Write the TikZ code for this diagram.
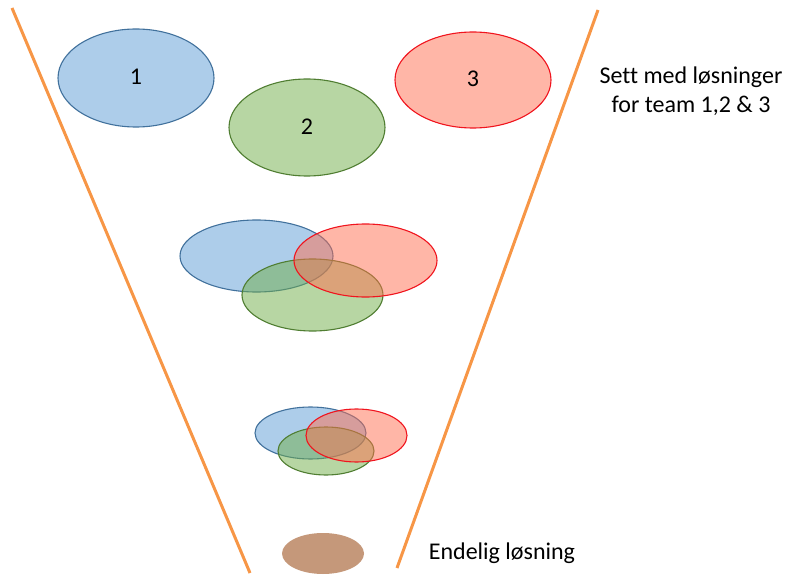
\documentclass[tikz,border=0pt]{standalone}
\usepackage{fontspec}
\setmainfont[Ligatures=NoCommon]{Carlito}
\definecolor{funnel}{RGB}{247,150,70}
\definecolor{bluefill}{RGB}{91,155,213}
\definecolor{blueline}{RGB}{65,113,156}
\definecolor{greenfill}{RGB}{112,173,71}
\definecolor{greenline}{RGB}{80,126,50}
\definecolor{redfill}{RGB}{255,110,80}
\definecolor{redline}{RGB}{240,20,30}
\definecolor{finalfill}{RGB}{197,152,122}
\tikzset{
  blueset/.style={draw=blueline, fill=bluefill, fill opacity=0.5, draw opacity=1, line width=1.1pt},
  greenset/.style={draw=greenline, fill=greenfill, fill opacity=0.5, draw opacity=1, line width=1.1pt},
  redset/.style={draw=redline, fill=redfill, fill opacity=0.5, draw opacity=1, line width=1.1pt},
  funnelline/.style={draw=funnel, line width=3pt},
  lbl/.style={font=\fontsize{24}{29}\selectfont, text=black},
}
\begin{document}
\begin{tikzpicture}[x=1pt,y=-1pt]
\useasboundingbox (0,0) rectangle (785,575);
% funnel walls
\coordinate (lt) at (12,8);
\coordinate (lb) at (250,573);
\coordinate (rt) at (598,10);
\coordinate (rb) at (397,568);
\draw[funnelline] (lt) -- (lb);
\draw[funnelline] (rt) -- (rb);
% team sets
\draw[blueset] (136,78) ellipse [x radius=78, y radius=49];
\draw[greenset] (307,127.5) ellipse [x radius=78, y radius=48.5];
\draw[redset] (473,80) ellipse [x radius=78, y radius=48];
\node[lbl] (t1) at (136,77) {1};
\node[lbl] (t2) at (307,126.5) {2};
\node[lbl] (t3) at (473,79) {3};
% first merge
\draw[blueset] (256.5,256) ellipse [x radius=76.5, y radius=36];
\draw[greenset] (312.5,295) ellipse [x radius=70.5, y radius=36];
\draw[redset] (365.5,260.5) ellipse [x radius=71.5, y radius=36.5];
% second merge
\draw[blueset] (310.5,433) ellipse [x radius=55.5, y radius=26];
\draw[greenset] (326,451) ellipse [x radius=48, y radius=24];
\draw[redset] (356.5,435.5) ellipse [x radius=50.5, y radius=26.5];
% final solution
\fill[finalfill] (323,553.5) ellipse [x radius=41, y radius=20.5];
% captions
\node[lbl, align=center] (cap1) at (691,91) {Sett med løsninger\\for team 1,2 \& 3};
\node[lbl] (cap2) at (502,553) {Endelig løsning};
\end{tikzpicture}
\end{document}
